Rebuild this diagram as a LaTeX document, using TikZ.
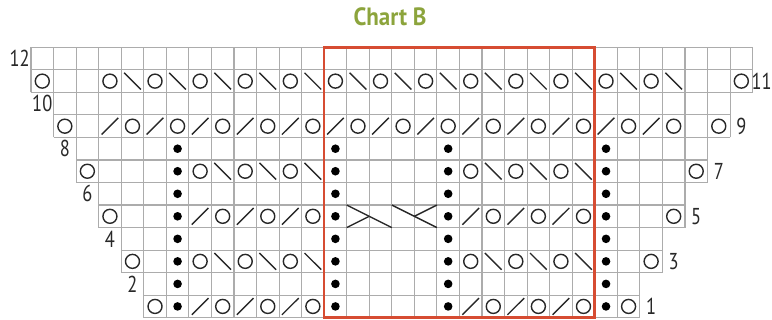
\documentclass[tikz,border=0pt]{standalone}
\usepackage{fontspec}
\setmainfont{PT Sans}
\newfontfamily\condfont{PT Sans}[FakeStretch=0.8]
\newfontfamily\titlefont{PT Sans Bold}[FakeStretch=0.92]
\definecolor{titlegreen}{RGB}{140,164,60}
\definecolor{boxred}{RGB}{214,76,50}
\definecolor{gridgray}{RGB}{172,172,172}
\definecolor{ink}{RGB}{40,40,40}
\tikzset{
  gridline/.style={draw=gridgray, line width=1.1pt},
  sym/.style={draw=ink, line width=1.4pt},
  dotfill/.style={fill=black},
  rowlabel/.style={font=\condfont\fontsize{23}{23}\selectfont, text=ink, inner sep=0pt},
  titlestyle/.style={font=\titlefont\fontsize{25}{25}\selectfont, text=titlegreen, inner sep=0pt}
}
\newcommand\symO[2]{\draw[sym] (#1+0.5,#2-0.5) circle[radius=7pt];}
\newcommand\symBS[2]{\draw[sym] (#1+0.13,#2-0.13) -- (#1+0.87,#2-0.87);}
\newcommand\symFS[2]{\draw[sym] (#1+0.13,#2-0.87) -- (#1+0.87,#2-0.13);}
\newcommand\symDot[2]{\fill[dotfill] (#1+0.5,#2-0.5) circle[radius=4.3pt];}
\begin{document}
\begin{tikzpicture}[x=1pt,y=1pt]
\useasboundingbox (0,0) rectangle (772,320);
\node[titlestyle] (title) at (390,303) {Chart B};
\begin{scope}[shift={(31pt,2.3pt)}, x=22.55pt, y=22.53pt]
  % grid
  \foreach \r in {1,...,12} {
    \pgfmathtruncatemacro\a{5-int((\r-1)/2)}
    \pgfmathtruncatemacro\bb{27+int((\r-1)/2)}
    \draw[gridline] (\a,\r-1) -- (\bb,\r-1) (\a,\r) -- (\bb,\r);
    \foreach \c in {\a,...,\bb} { \draw[gridline] (\c,\r-1) -- (\c,\r); }
  }
  % red box
  \draw[draw=boxred, line width=2.6pt] (13,0) rectangle (25,12);
  % row 11
  \symO{0}{11}
  \foreach \c in {3,5,...,27} { \symO{\c}{11} }
  \foreach \c in {4,6,...,28} { \symBS{\c}{11} }
  \symO{31}{11}
  % row 9
  \symO{1}{9}
  \foreach \c in {3,5,...,27} { \symFS{\c}{9} }
  \foreach \c in {4,6,...,28} { \symO{\c}{9} }
  \symO{30}{9}
  % rows 7 and 3
  \foreach \r in {7,3} {
    \foreach \c in {7,9,11,19,21,23} { \symO{\c}{\r} }
    \foreach \c in {8,10,12,20,22,24} { \symBS{\c}{\r} }
  }
  % rows 5 and 1
  \foreach \r in {5,1} {
    \foreach \c in {7,9,11,19,21,23} { \symFS{\c}{\r} }
    \foreach \c in {8,10,12,20,22,24} { \symO{\c}{\r} }
  }
  % edge yarn-overs
  \symO{2}{7} \symO{29}{7}
  \symO{3}{5} \symO{28}{5}
  \symO{4}{3} \symO{27}{3}
  \symO{5}{1} \symO{26}{1}
  % purl dots
  \foreach \r in {1,...,8} {
    \foreach \c in {6,13,18,25} { \symDot{\c}{\r} }
  }
  % cables in row 5
  \draw[sym] (14,5) -- (16,4);
  \draw[sym] (14,4) -- (15,4.5);
  \draw[sym] (16,5) -- (18,4);
  \draw[sym] (17,4.5) -- (18,5);
  % row labels
  \node[rowlabel] (l12) at (-0.5,11.5) {12};
  \node[rowlabel] (l10) at (0.5,9.5) {10};
  \node[rowlabel] (l8) at (1.5,7.5) {8};
  \node[rowlabel] (l6) at (2.5,5.5) {6};
  \node[rowlabel] (l4) at (3.5,3.5) {4};
  \node[rowlabel] (l2) at (4.5,1.5) {2};
  \node[rowlabel] (l11) at (32.4,10.5) {11};
  \node[rowlabel] (l9) at (31.5,8.5) {9};
  \node[rowlabel] (l7) at (30.5,6.5) {7};
  \node[rowlabel] (l5) at (29.5,4.5) {5};
  \node[rowlabel] (l3) at (28.5,2.5) {3};
  \node[rowlabel] (l1) at (27.5,0.5) {1};
\end{scope}
\end{tikzpicture}
\end{document}
